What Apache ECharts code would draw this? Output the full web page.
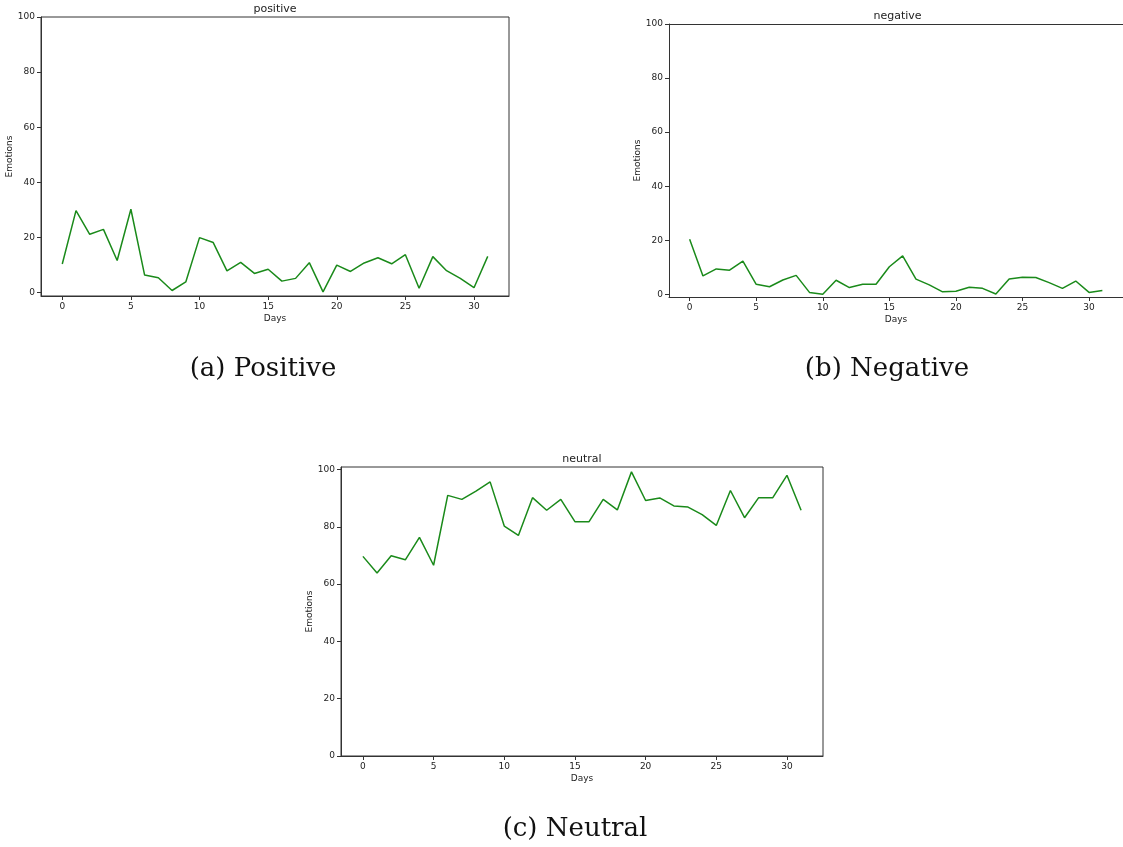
<!DOCTYPE html>
<html>
<head>
<meta charset="utf-8">
<script src="https://cdn.jsdelivr.net/npm/echarts@6/dist/echarts.min.js"></script>
<style>
  html, body { margin: 0; padding: 0; background: #fff; }
  #main { width: 1123px; height: 847px; }
</style>
</head>
<body>
<div id="main"></div>
<script>
// data
var days = [];
for (var d = 0; d < 32; d++) days.push(d);
var positive = [10.3, 29.7, 21.1, 22.9, 11.6, 30.2, 6.3, 5.3, 0.7, 3.8, 19.9, 18.1, 7.8, 10.9, 6.9, 8.4,
                4.1, 5.1, 10.8, 0.2, 9.9, 7.6, 10.7, 12.6, 10.4, 13.7, 1.5, 13.0, 7.9, 5.1, 1.7, 13.1];
var negative = [20.4, 6.8, 9.4, 8.9, 12.3, 3.7, 2.8, 5.3, 7.0, 0.7, 0.0, 5.2, 2.5, 3.7, 3.7, 10.2,
                14.2, 5.6, 3.5, 0.9, 1.1, 2.6, 2.2, 0.1, 5.7, 6.3, 6.2, 4.3, 2.2, 4.9, 0.7, 1.4];
var neutral = [69.7, 63.9, 69.9, 68.5, 76.3, 66.6, 91.0, 89.6, 92.5, 95.7, 80.3, 77.0, 90.2, 85.8, 89.6, 81.8,
               81.8, 89.6, 85.9, 99.2, 89.2, 90.1, 87.3, 86.9, 84.3, 80.5, 92.7, 83.2, 90.2, 90.2, 98.0, 85.8];
var xTicks = [0, 5, 10, 15, 20, 25, 30];
var yTicks = [0, 20, 40, 60, 80, 100];
var panelTitles = ['positive', 'negative', 'neutral'];
var captions = ['(a) Positive', '(b) Negative', '(c) Neutral'];

var chart = echarts.init(document.getElementById('main'));

var grids = [
  {left: 41, top: 17, width: 468, height: 279},
  {left: 669, top: 24, width: 457, height: 273},
  {left: 341, top: 467, width: 482, height: 289}
];
var yRanges = [[-1.3, 100], [-1.0, 100], [0, 100.9]];
var seriesData = [positive, negative, neutral];

function pairs(vals) {
  return days.map(function (d, i) { return [d, vals[i]]; });
}

var txt = {fontFamily: 'DejaVu Sans', fontSize: 9, color: '#222'};
var line = {show: true, onZero: false, lineStyle: {color: '#333', width: 1}};

var xAxes = [], yAxes = [], series = [], graphics = [];
grids.forEach(function (g, i) {
  xAxes.push({
    gridIndex: i, type: 'value', min: -1.55, max: 32.55,
    name: 'Days', nameLocation: 'middle', nameGap: 18, nameTextStyle: txt,
    axisLine: line, splitLine: {show: false},
    axisTick: {show: true, length: 4, customValues: xTicks, lineStyle: {color: '#333'}},
    axisLabel: Object.assign({customValues: xTicks, margin: 6}, txt)
  });
  yAxes.push({
    gridIndex: i, type: 'value', min: yRanges[i][0], max: yRanges[i][1],
    name: 'Emotions', nameLocation: 'middle', nameGap: 24, nameTextStyle: txt,
    axisLine: line, splitLine: {show: false},
    axisTick: {show: true, length: 4, customValues: yTicks, lineStyle: {color: '#333'}},
    axisLabel: Object.assign({customValues: yTicks, margin: 6}, txt)
  });
  series.push({
    type: 'line', xAxisIndex: i, yAxisIndex: i,
    data: pairs(seriesData[i]), showSymbol: false,
    lineStyle: {color: '#1a8a1a', width: 1.5}, silent: true
  });
  graphics.push({
    type: 'text', x: g.left + g.width / 2, y: g.top - 8,
    style: {text: panelTitles[i], font: '11px "DejaVu Sans"', fill: '#222', textAlign: 'center', textVerticalAlign: 'middle'}
  });
});

// panel b runs off the right edge: draw only its top spine with an extra axis
xAxes.push({
  gridIndex: 1, type: 'value', position: 'top', min: -1.55, max: 32.55,
  axisLine: line, axisTick: {show: false}, axisLabel: {show: false}, splitLine: {show: false}
});

var captionPos = [[263, 369], [887, 369], [575, 829]];
captions.forEach(function (c, i) {
  graphics.push({
    type: 'text', x: captionPos[i][0], y: captionPos[i][1],
    style: {text: c, font: '26px "DejaVu Serif"', fill: '#111', textAlign: 'center', textVerticalAlign: 'middle'}
  });
});

var option = {
  animation: false,
  backgroundColor: '#fff',
  grid: grids.map(function (g, i) {
    return Object.assign({show: i !== 1, borderColor: '#333', borderWidth: 1, backgroundColor: 'transparent'}, g);
  }),
  xAxis: xAxes,
  yAxis: yAxes,
  series: series,
  graphic: graphics
};
chart.setOption(option);
window.onresize = function () { chart.resize(); };
</script>
</body>
</html>
